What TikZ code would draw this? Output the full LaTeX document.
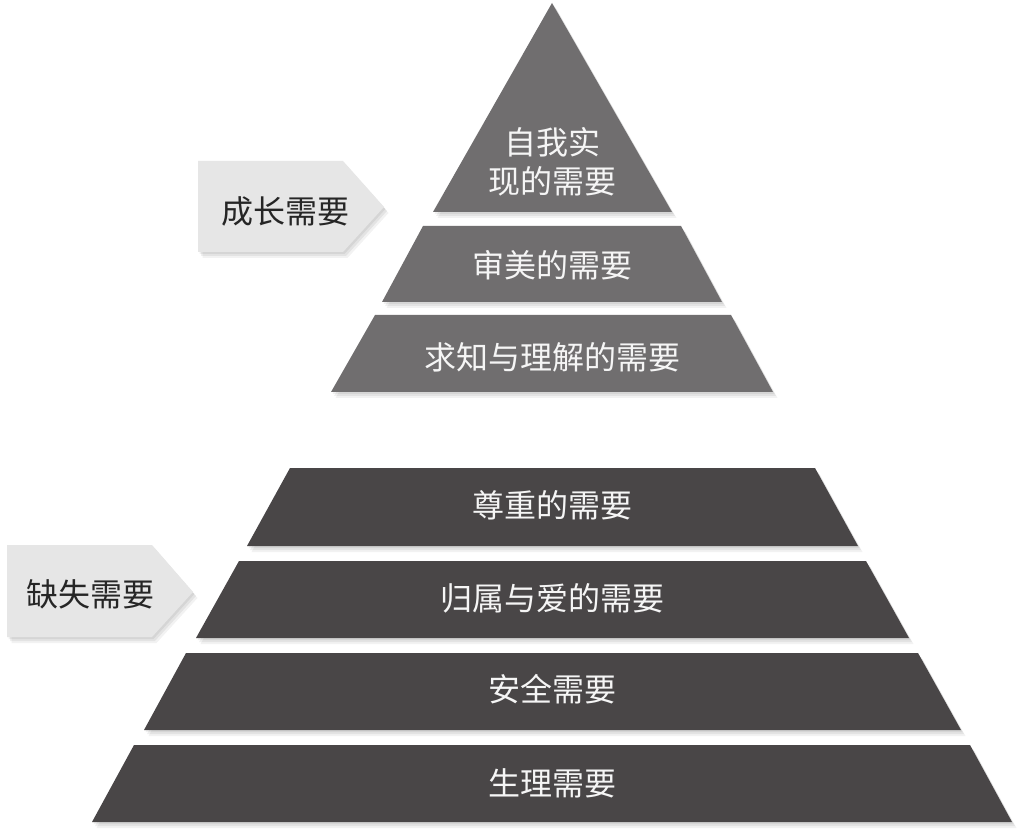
\documentclass[tikz,border=0pt]{standalone}
\usepackage{fontspec}
\newfontfamily\cjk{Noto Sans CJK SC}
\begin{document}
\begin{tikzpicture}[x=1pt,y=-1pt,
  soft/.style={
    preaction={fill=black,opacity=.06,transform canvas={xshift=1.5pt,yshift=-2pt}},
    preaction={fill=black,opacity=.06,transform canvas={xshift=3pt,yshift=-4pt}},
    preaction={fill=black,opacity=.05,transform canvas={xshift=4.5pt,yshift=-6pt}}},
  upper/.style={fill=upfill,soft},
  lower/.style={fill=lowfill,soft},
  tag/.style={fill=tagfill,soft},
  intext/.style={font=\cjk\fontsize{32}{39}\selectfont,text=txtwhite,align=center,inner sep=0pt},
  tagtext/.style={font=\cjk\fontsize{32}{39}\selectfont,text=black!85,inner sep=0pt}]
\definecolor{upfill}{RGB}{112,110,111}
\definecolor{lowfill}{RGB}{73,70,71}
\definecolor{tagfill}{RGB}{230,230,230}
\definecolor{txtwhite}{RGB}{245,245,245}
\useasboundingbox[fill=white] (0,0) rectangle (1029,834);
% upper pyramid
\path[upper] (552,3) -- (672,212) -- (433,212) -- cycle;
\path[upper] (423,226) -- (681,226) -- (722,302) -- (382,302) -- cycle;
\path[upper] (375,315) -- (731,315) -- (773,392) -- (331,392) -- cycle;
% lower pyramid
\path[lower] (290,468) -- (815,468) -- (858,546) -- (247,546) -- cycle;
\path[lower] (239,561) -- (866,561) -- (909,638) -- (196,638) -- cycle;
\path[lower] (186,653) -- (918,653) -- (961,730) -- (144,730) -- cycle;
\path[lower] (134,745) -- (970,745) -- (1012,822) -- (92,822) -- cycle;
% tags
\path[tag] (198,161) -- (343,161) -- (384,207) -- (343,252) -- (198,252) -- cycle;
\path[tag] (7,545) -- (152,545) -- (193,592) -- (152,637) -- (7,637) -- cycle;
% texts
\node[intext] (zwsx) at (552,162) {自我实\\现的需要};
\node[intext] (shenmei) at (552,265) {审美的需要};
\node[intext] (qiuzhi) at (552,357) {求知与理解的需要};
\node[intext] (zunzhong) at (552,505) {尊重的需要};
\node[intext] (guishu) at (552,598) {归属与爱的需要};
\node[intext] (anquan) at (552,689) {安全需要};
\node[intext] (shengli) at (552,783) {生理需要};
\node[tagtext] (chengzhang) at (285,211) {成长需要};
\node[tagtext] (queshi) at (91,594) {缺失需要};
\end{tikzpicture}
\end{document}
